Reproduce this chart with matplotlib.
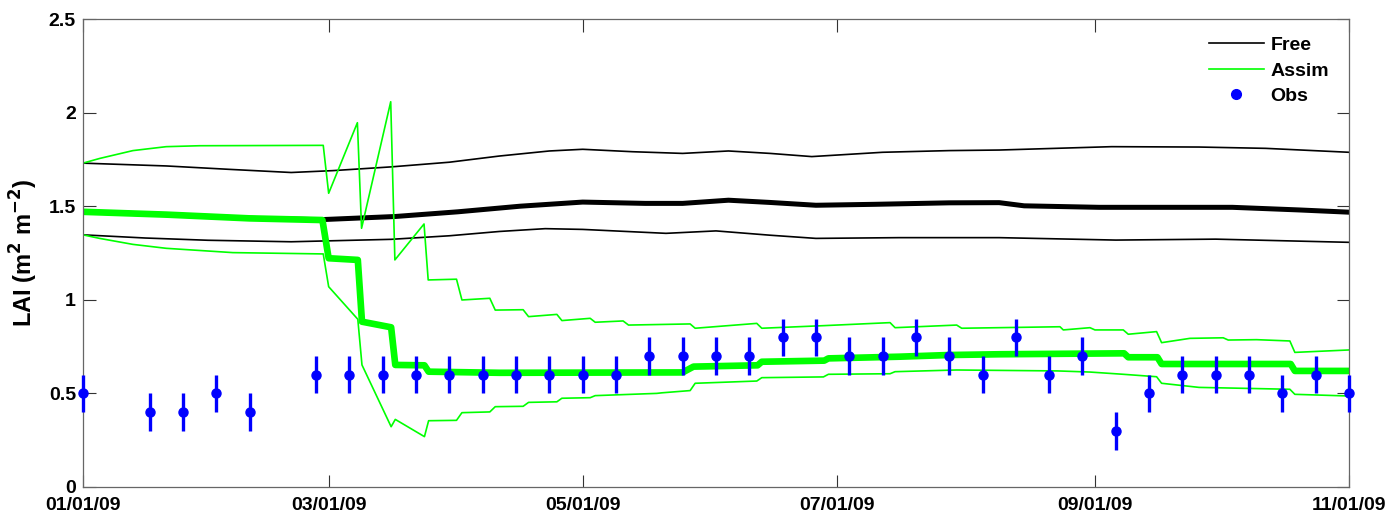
import numpy as np
import pandas as pd
import matplotlib
matplotlib.use('Agg')
import matplotlib.pyplot as plt
import matplotlib.dates as mdates
from matplotlib.ticker import FormatStrFormatter

plt.rcParams['font.family'] = ['Liberation Sans', 'DejaVu Sans']
plt.rcParams['font.weight'] = 'bold'

start = pd.Timestamp('2009-01-01')

# Free run (ensemble mean and spread), days after 01/01/09
free_mean_days = [0, 20, 40, 57, 75, 90, 105, 120, 135, 144, 155, 165, 176, 190, 208, 220, 226, 244, 276, 292, 304]
free_mean = [1.47, 1.455, 1.435, 1.428, 1.445, 1.47, 1.50, 1.522, 1.515, 1.515, 1.532, 1.52, 1.505, 1.51, 1.518,
             1.519, 1.502, 1.494, 1.494, 1.48, 1.468]
free_upper_days = [0, 20, 35, 50, 60, 74, 88, 100, 112, 120, 132, 144, 155, 165, 175, 192, 208, 220, 247, 268, 284, 304]
free_upper = [1.73, 1.715, 1.697, 1.68, 1.69, 1.71, 1.735, 1.768, 1.795, 1.804, 1.791, 1.782, 1.795, 1.782, 1.765,
              1.788, 1.797, 1.80, 1.818, 1.816, 1.809, 1.788]
free_lower_days = [0, 15, 30, 50, 74, 88, 100, 111, 120, 140, 152, 165, 176, 196, 220, 248, 272, 304]
free_lower = [1.347, 1.33, 1.318, 1.31, 1.323, 1.342, 1.365, 1.38, 1.376, 1.355, 1.368, 1.345, 1.328, 1.332, 1.332,
              1.319, 1.324, 1.307]

# Assimilation run
assim_mean_days = [0, 20, 40, 57.5, 59, 66, 67, 74, 75, 82, 83, 100, 144, 146.6, 162, 163, 178, 179, 196, 208, 220,
                   250, 251, 258, 259, 290, 291, 304]
assim_mean = [1.47, 1.455, 1.435, 1.426, 1.222, 1.213, 0.883, 0.853, 0.652, 0.65, 0.616, 0.61, 0.612, 0.643, 0.65,
              0.669, 0.675, 0.687, 0.696, 0.705, 0.709, 0.714, 0.693, 0.693, 0.657, 0.657, 0.62, 0.62]
assim_upper_days = [0, 4, 12, 20, 28, 57.7, 59, 65.9, 66.9, 73.9, 74.9, 81.9, 82.9, 89.7, 91, 97.7, 99, 105.7, 107,
                    113.8, 115, 121.8, 123, 129.7, 131, 145.8, 147, 161.8, 163, 178, 193.8, 195, 209.8, 211, 234.6,
                    235.4, 241.8, 243, 249.8, 251, 257.8, 259, 265.8, 273.8, 275, 281.8, 289.8, 291, 304]
assim_upper = [1.73, 1.755, 1.797, 1.818, 1.823, 1.825, 1.569, 1.946, 1.382, 2.058, 1.213, 1.405, 1.106, 1.11, 0.999,
               1.008, 0.945, 0.947, 0.91, 0.922, 0.889, 0.901, 0.88, 0.887, 0.865, 0.871, 0.848, 0.874, 0.848, 0.862,
               0.878, 0.851, 0.865, 0.848, 0.856, 0.839, 0.851, 0.839, 0.839, 0.816, 0.83, 0.771, 0.794, 0.797, 0.785,
               0.787, 0.78, 0.719, 0.732]
assim_lower_days = [0, 4, 12, 20, 36, 57.7, 59, 66, 67, 74, 75, 82, 83, 89.7, 91, 97.7, 99, 105.7, 107, 113.8, 115,
                    121.8, 123, 137.8, 139, 145.8, 147, 161.8, 163, 177.8, 179, 193.8, 195, 209.8, 234, 241.8, 249.8,
                    257.8, 259, 268, 289.8, 291, 304]
assim_lower = [1.347, 1.328, 1.296, 1.275, 1.252, 1.245, 1.07, 0.896, 0.652, 0.322, 0.361, 0.269, 0.354, 0.356, 0.397,
               0.401, 0.429, 0.431, 0.452, 0.455, 0.474, 0.477, 0.488, 0.5, 0.503, 0.515, 0.554, 0.566, 0.584, 0.588,
               0.602, 0.605, 0.616, 0.625, 0.62, 0.614, 0.602, 0.589, 0.554, 0.532, 0.522, 0.495, 0.486]

# Observations (8-day), error +/- 0.1
obs_days = [0, 16, 24, 32, 40, 56, 64, 72, 80, 88, 96, 104, 112, 120, 128, 136, 144, 152, 160, 168, 176, 184, 192,
            200, 208, 216, 224, 232, 240, 248, 256, 264, 272, 280, 288, 296, 304]
obs_lai = [0.5, 0.4, 0.4, 0.5, 0.4, 0.6, 0.6, 0.6, 0.6, 0.6, 0.6, 0.6, 0.6, 0.6, 0.6, 0.7, 0.7, 0.7, 0.7, 0.8, 0.8,
           0.7, 0.7, 0.8, 0.7, 0.6, 0.8, 0.6, 0.7, 0.3, 0.5, 0.6, 0.6, 0.6, 0.5, 0.6, 0.5]
obs_err = 0.1


def to_dates(days):
    return start + pd.to_timedelta(np.array(days, dtype=float), unit='D')


fig = plt.figure(figsize=(13.87, 5.15), dpi=100)
ax = fig.add_axes([0.0598, 0.0544, 0.9128, 0.9087])

green = '#00ff00'
ax.plot(to_dates(free_upper_days), free_upper, color='k', lw=1.2)
ax.plot(to_dates(free_lower_days), free_lower, color='k', lw=1.2)
ax.plot(to_dates(free_mean_days), free_mean, color='k', lw=3.6)
ax.plot(to_dates(assim_upper_days), assim_upper, color=green, lw=1.2)
ax.plot(to_dates(assim_lower_days), assim_lower, color=green, lw=1.2)
ax.plot(to_dates(assim_mean_days), assim_mean, color=green, lw=4.8)
ax.errorbar(to_dates(obs_days), obs_lai, yerr=obs_err, fmt='o', color='#0000ff', ms=6.5,
            elinewidth=2.4, capsize=0, zorder=5, clip_on=False)

# legend proxies
ax.plot([], [], color='k', lw=1.2, label='Free')
ax.plot([], [], color=green, lw=1.2, label='Assim')
ax.plot([], [], 'o', color='#0000ff', ms=7, label='Obs')
handles, labels = ax.get_legend_handles_labels()
ax.legend(handles[-3:], labels[-3:], loc='upper right', frameon=False, fontsize=14,
          handlelength=2.8, handletextpad=0.35, labelspacing=0.4, borderaxespad=0.5,
          bbox_to_anchor=(0.998, 1.0))

ax.set_xlim(start, to_dates([304])[0])
ax.set_ylim(0, 2.5)
ax.xaxis.set_major_locator(mdates.MonthLocator(bymonth=[1, 3, 5, 7, 9, 11]))
ax.xaxis.set_major_formatter(mdates.DateFormatter('%m/%d/%y'))
ax.yaxis.set_major_formatter(FormatStrFormatter('%g'))
ax.set_yticks([0, 0.5, 1, 1.5, 2, 2.5])
ax.tick_params(direction='in', length=9, width=0.8, top=True, right=True, labelsize=14, color='#333333')
ax.tick_params(axis='x', pad=7)
ax.tick_params(axis='y', pad=5)
for s in ax.spines.values():
    s.set_color('#666666')
    s.set_linewidth(0.9)
ax.set_ylabel('LAI (m$^\\mathbf{2}$ m$^\\mathbf{-2}$)', fontsize=17, fontweight='bold')
ax.yaxis.set_label_coords(-0.034, 0.5)

fig.savefig('out.png', dpi=100)
